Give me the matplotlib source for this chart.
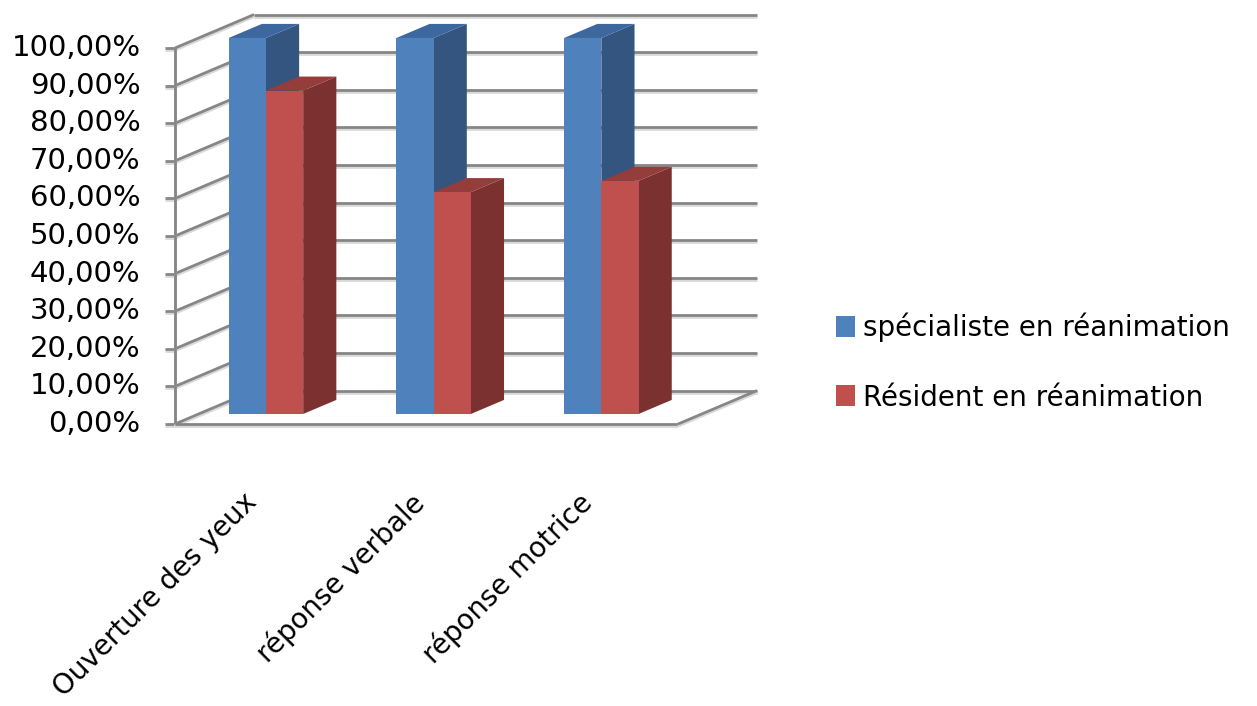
import matplotlib
matplotlib.use('Agg')
import matplotlib.pyplot as plt
from matplotlib.patches import Polygon, Patch
from matplotlib import patheffects as pe

# data
categories = ['Ouverture des yeux', 'réponse verbale', 'réponse motrice']
series = ['spécialiste en réanimation', 'Résident en réanimation']
specialiste = [100.0, 100.0, 100.0]
resident = [86.0, 59.0, 62.0]
yticks = list(range(0, 101, 10))

front_colors = ['#4f81bd', '#c0504d']
side_colors = ['#34557f', '#7a3130']
top_colors = ['#3d679f', '#953d3b']
grid_color = '#868686'

# oblique 3D look: one unit of depth shifts right by DX and up by DY
DX, DY = 0.471, 8.9
BAR_W = 0.222
BAR_X0 = 0.179
D_FRONT, D_BACK = 0.30, 0.72


def proj(x, y, d):
    return (x + d * DX, y + d * DY)


fig = plt.figure(figsize=(12.57, 7.06), dpi=100)
ax = fig.add_axes([0, 0, 1, 1])
ax.set_xlim(-1.0435, 6.452)
ax.set_ylim(-75.0, 112.77)
ax.axis('off')

n = len(categories)
line_fx = [pe.SimpleLineShadow(offset=(0, -1.5), shadow_color='#d9d9d9', alpha=1), pe.Normal()]
line_kw = dict(color=grid_color, lw=2, solid_capstyle='butt', path_effects=line_fx, zorder=1)

# walls, floor and gridlines
for v in yticks:
    ax.plot([DX, n + DX], [v + DY, v + DY], **line_kw)
    ax.plot([0, DX], [v, v + DY], **line_kw)
    ax.plot([-0.06, 0], [v, v], **line_kw)
    ax.text(-0.205, v, f'{v},00%', ha='right', va='center', fontsize=21, color='black')
ax.plot([0, 0], [0, 100], **line_kw)
ax.plot([0, n], [0, 0], **line_kw)
ax.plot([n, n + DX], [0, DY], **line_kw)

# 3D columns
values = [specialiste, resident]
for i in range(n):
    for j, vals in enumerate(values):
        v = vals[i]
        x0 = i + BAR_X0 + j * BAR_W
        x1 = x0 + BAR_W
        side = [proj(x1, 0, D_FRONT), proj(x1, 0, D_BACK), proj(x1, v, D_BACK), proj(x1, v, D_FRONT)]
        top = [proj(x0, v, D_FRONT), proj(x1, v, D_FRONT), proj(x1, v, D_BACK), proj(x0, v, D_BACK)]
        front = [proj(x0, 0, D_FRONT), proj(x1, 0, D_FRONT), proj(x1, v, D_FRONT), proj(x0, v, D_FRONT)]
        z = 3 + i * 3 + j
        ax.add_patch(Polygon(side, closed=True, fc=side_colors[j], ec='none', zorder=z))
        ax.add_patch(Polygon(top, closed=True, fc=top_colors[j], ec='none', zorder=z))
        ax.add_patch(Polygon(front, closed=True, fc=front_colors[j], ec='none', zorder=z + 0.5))

# category labels
for i, cat in enumerate(categories):
    cx = i + BAR_X0 + BAR_W + D_FRONT * DX
    ax.text(cx - 0.14, -17, cat, rotation=45, ha='right', va='top', rotation_mode='anchor',
            fontsize=20, color='black')

handles = [Patch(facecolor=c, edgecolor='none') for c in front_colors]
ax.legend(handles, series, loc='center left', bbox_to_anchor=(836 / 1257, 1 - 362 / 706),
          bbox_transform=fig.transFigure, frameon=False, fontsize=20,
          handlelength=0.7, handleheight=0.78, handletextpad=0.28, labelspacing=1.5,
          borderpad=0, borderaxespad=0)

fig.savefig('out.png', dpi=100)
